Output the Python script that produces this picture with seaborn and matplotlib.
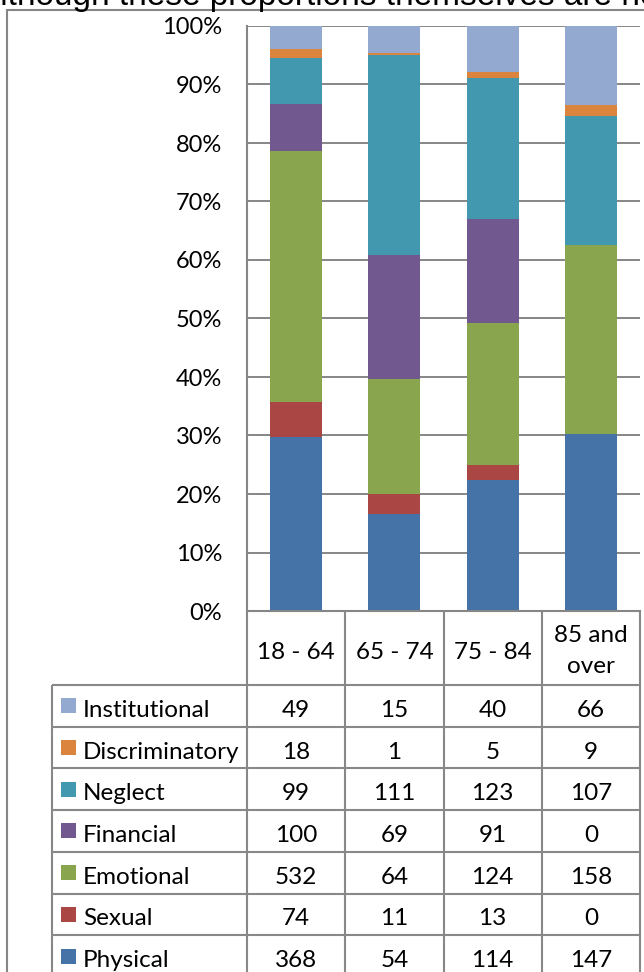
import numpy as np
import pandas as pd
import seaborn as sns
import matplotlib.pyplot as plt
from matplotlib.lines import Line2D
from matplotlib.patches import Rectangle

# ---- data -------------------------------------------------------------
age_groups = ["18 - 64", "65 - 74", "75 - 84", "85 and\nover"]

# stacking order, bottom to top
abuse_types = ["Physical", "Sexual", "Emotional", "Financial",
               "Neglect", "Discriminatory", "Institutional"]

physical = [368, 54, 114, 147]
sexual = [74, 11, 13, 0]
emotional = [532, 64, 124, 158]
financial = [100, 69, 91, 0]
neglect = [99, 111, 123, 107]
discriminatory = [18, 1, 5, 9]
institutional = [49, 15, 40, 66]

series = [physical, sexual, emotional, financial, neglect,
          discriminatory, institutional]
colors = ["#4572A7", "#AA4643", "#89A54E", "#71588F",
          "#4198AF", "#DB843D", "#93A9CF"]

y_ticks = [0, 10, 20, 30, 40, 50, 60, 70, 80, 90, 100]

# ---- long table with cumulative percentages ---------------------------
counts = np.array(series, dtype=float)            # (types, groups)
pct = counts / counts.sum(axis=0) * 100
cum = np.cumsum(pct, axis=0)
rows = []
for t, name in enumerate(abuse_types):
    for g, grp in enumerate(age_groups):
        rows.append({"type": name, "age": grp, "count": counts[t, g],
                     "pct": pct[t, g], "cum": cum[t, g]})
df = pd.DataFrame(rows)

# ---- figure -----------------------------------------------------------
W, H = 644, 972
DPI = 100
sns.set_style("white")
plt.rcParams["font.family"] = ["Lato", "DejaVu Sans"]

fig = plt.figure(figsize=(W / DPI, H / DPI), dpi=DPI)
fig.patch.set_facecolor("white")

def fx(px):
    return px / W

def fy(py):
    return 1 - py / H

AX_L, AX_R, AX_T, AX_B = 247, 640, 26, 611
ax = fig.add_axes([fx(AX_L), fy(AX_B), fx(AX_R - AX_L), (AX_B - AX_T) / H])

# stacked bars: draw cumulative totals from the top layer down
for name, col in zip(abuse_types[::-1], colors[::-1]):
    sub = df[df["type"] == name]
    sns.barplot(data=sub, x="age", y="cum", order=age_groups, color=col,
                saturation=1, width=0.53, linewidth=0, errorbar=None,
                ax=ax, zorder=2)

ax.set_xlim(-0.5, 3.5)
ax.set_ylim(0, 100)
ax.set_yticks(y_ticks)
ax.set_yticklabels([f"{v}%" for v in y_ticks])
ax.set_xticks([])
ax.set_xlabel("")
ax.set_ylabel("")
ax.yaxis.grid(True, color="#868686", linewidth=1.4, zorder=0)
ax.set_axisbelow(True)
ax.tick_params(axis="y", length=0, pad=18, labelsize=17, labelcolor="black")
for side in ["top", "right"]:
    ax.spines[side].set_visible(False)
for side in ["left", "bottom"]:
    ax.spines[side].set_color("#868686")
    ax.spines[side].set_linewidth(1.5)

# ---- data table below the plot ---------------------------------------
LINE = dict(color="#888888", linewidth=1.5, solid_capstyle="butt")
FS = 17.5
col_w = (AX_R - AX_L) / len(age_groups)
col_edges = [AX_L + i * col_w for i in range(len(age_groups) + 1)]
col_mid = [AX_L + (i + 0.5) * col_w for i in range(len(age_groups))]

TBL_L = 52
HDR_B = 685
ROW_H = 41.7
n_rows = len(abuse_types)
row_edges = [HDR_B + i * ROW_H for i in range(n_rows + 1)]

for x in col_edges:
    fig.add_artist(Line2D([fx(x), fx(x)], [fy(AX_B), fy(H + 5)], **LINE))
fig.add_artist(Line2D([fx(TBL_L), fx(TBL_L)], [fy(HDR_B), fy(H + 5)], **LINE))
for y in row_edges:
    fig.add_artist(Line2D([fx(TBL_L), fx(AX_R)], [fy(y), fy(y)], **LINE))

# header row: category names, wrapped ones drawn line by line
for xm, grp in zip(col_mid, age_groups):
    parts = grp.split("\n")
    if len(parts) == 1:
        baselines = [659]
    else:
        baselines = [642, 673]
    for part, yb in zip(parts, baselines):
        fig.text(fx(xm), fy(yb), part, ha="center", va="baseline",
                 fontsize=FS, color="black")

# rows: top row is the top of the stack
for r, t in enumerate(range(n_rows - 1, -1, -1)):
    yc = row_edges[r] + ROW_H / 2
    yb = yc + 11
    fig.add_artist(Rectangle((fx(61), fy(yc + 7.5)), fx(15), 15 / H,
                             facecolor=colors[t], edgecolor="none"))
    fig.text(fx(83), fy(yb), abuse_types[t], ha="left", va="baseline",
             fontsize=FS, color="black")
    for g, xm in enumerate(col_mid):
        fig.text(fx(xm), fy(yb), f"{int(counts[t, g])}", ha="center",
                 va="baseline", fontsize=FS, color="black")

# ---- surrounding frame and running text above ------------------------
FRAME = dict(color="#868686", linewidth=1.5)
fig.add_artist(Line2D([fx(7), fx(7)], [fy(10), fy(H + 5)], **FRAME))
fig.add_artist(Line2D([fx(7), fx(W + 5)], [fy(10), fy(10)], **FRAME))
fig.text(fx(-22), fy(5), "Although these proportions themselves are not",
         ha="left", va="baseline", fontsize=24, color="black",
         family=["Liberation Sans", "DejaVu Sans"])

fig.savefig("out.png", dpi=DPI, facecolor="white")
